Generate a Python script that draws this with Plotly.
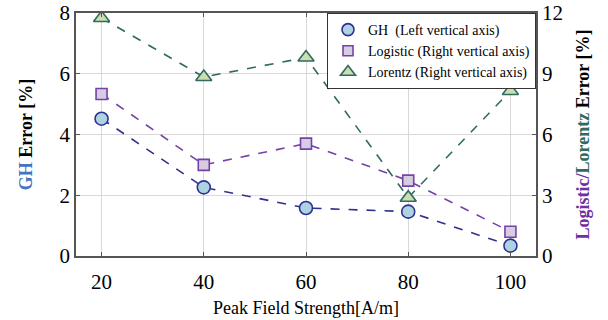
import plotly.graph_objects as go

x_vals = [20, 40, 60, 80, 100]
gh_err = [4.52, 2.26, 1.58, 1.46, 0.34]          # left axis
logistic_err = [8.0, 4.5, 5.55, 3.72, 1.2]      # right axis
lorentz_err = [11.75, 8.84, 9.8, 2.88, 8.15]    # right axis

x_ticks = [20, 40, 60, 80, 100]
y1_ticks = [0, 2, 4, 6, 8]
y2_ticks = [0, 3, 6, 9, 12]

FONT = "Liberation Serif, Times New Roman, DejaVu Serif, serif"
C_GH = "#2E3192"
C_LOG = "#7542A6"
C_LOR = "#2F6B61"

series = [
    ("GH\u00a0\u00a0(Left vertical axis)", gh_err, "y", C_GH, "#ADD3E3", "circle", 13),
    ("Logistic (Right vertical axis)", logistic_err, "y2", C_LOG, "#D8CCE2", "square", 11),
    ("Lorentz (Right vertical axis)", lorentz_err, "y2", C_LOR, "#CCDDB0", "triangle-up", 14),
]

fig = go.Figure()
for name, vals, ax, col, fill, sym, sz in series:
    fig.add_trace(go.Scatter(
        x=x_vals, y=vals, name=name, mode="lines+markers", showlegend=False,
        line=dict(color=col, width=1.6, dash="dash"),
        marker=dict(symbol=sym, size=sz, color=fill, line=dict(color=col, width=1.6)),
        yaxis=ax))
for name, vals, ax, col, fill, sym, sz in series:
    fig.add_trace(go.Scatter(
        x=[None], y=[None], name=name, mode="markers", showlegend=True,
        marker=dict(symbol=sym, size=sz - 1, color=fill, line=dict(color=col, width=1.6)),
        yaxis=ax))

axis_common = dict(showline=True, linecolor="#555555", linewidth=1.5,
                   ticks="inside", ticklen=4, tickcolor="#555555", tickwidth=1.2,
                   tickfont=dict(family=FONT, size=21, color="black"), zeroline=False,
                   automargin=False)

fig.update_layout(
    width=608, height=320,
    margin=dict(l=76, r=72, t=13, b=64),
    plot_bgcolor="white", paper_bgcolor="white",
    font=dict(family=FONT, color="black"),
    xaxis=dict(range=[15, 105], tickvals=x_ticks, mirror="ticks",
               showgrid=True, gridcolor="#D9D9D9", gridwidth=1, ticklabelstandoff=6,
               title=dict(text="Peak Field Strength[A/m]", font=dict(family=FONT, size=18), standoff=8),
               **axis_common),
    yaxis=dict(range=[0, 8], tickvals=y1_ticks, showgrid=True, gridcolor="#D9D9D9", gridwidth=1,
               title=dict(text="<b><span style='color:#4472C4'>GH</span> Error [%]</b>",
                          font=dict(family=FONT, size=18), standoff=22),
               **axis_common),
    yaxis2=dict(range=[0, 12], tickvals=y2_ticks, overlaying="y", side="right", showgrid=False,
                title=dict(text="<b><span style='color:#7030A0'>Logistic/</span><span style='color:#2E6B60'>Lorentz</span> Error [%]</b>",
                           font=dict(family=FONT, size=18), standoff=14),
                **axis_common),
    legend=dict(x=1, y=1, xanchor="right", yanchor="top", bgcolor="white",
                bordercolor="#333333", borderwidth=1, font=dict(family=FONT, size=14),
                tracegroupgap=0, itemwidth=30),
    showlegend=True,
)

fig.write_html("out.html", config={"displayModeBar": False},
               post_script="document.body.style.margin='0';document.body.style.padding='0';")
